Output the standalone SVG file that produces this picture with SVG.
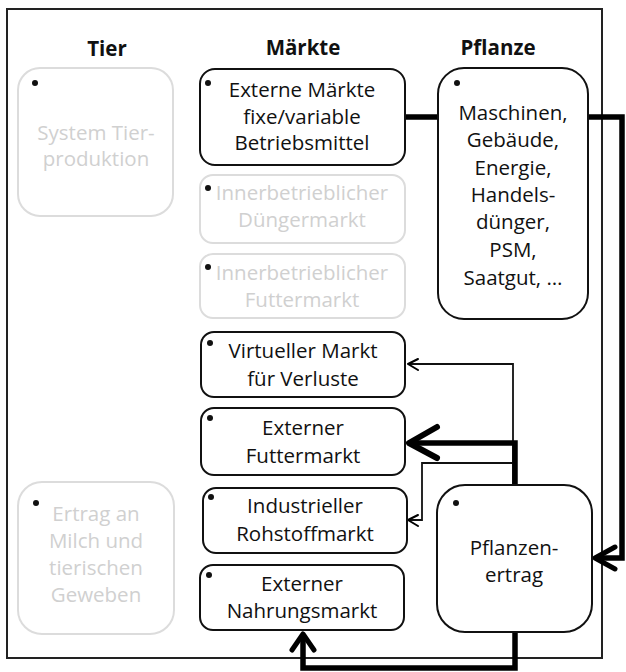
<svg xmlns="http://www.w3.org/2000/svg" width="626" height="672" viewBox="0 0 626 672">
<style>
text{font-family:"Open Sans","Noto Sans","Liberation Sans",sans-serif;font-size:20.5px;text-anchor:middle;fill:#111}
.h{font-weight:bold;font-size:20.5px}
.g{fill:#d0d0d0}
.bx{fill:#fff;stroke:#111;stroke-width:2}
.gb{fill:#fff;stroke:#dcdcdc;stroke-width:2}
.dot{fill:#111}
.thin{fill:none;stroke:#111;stroke-width:1.8}
.thick{fill:none;stroke:#000;stroke-width:5.5}
.ah{fill:none;stroke:#000;stroke-linecap:round;stroke-linejoin:round}
</style>
<rect x="7" y="9" width="595" height="649" fill="#fff" stroke="#222" stroke-width="2"/>
<text class="h" x="107" y="56">Tier</text>
<text class="h" x="303" y="55">Märkte</text>
<text class="h" x="498" y="55">Pflanze</text>
<g id="connectors">
<path class="thick" d="M405 117 H622 V558 H596"/>
<polyline class="ah" stroke-width="5" points="615,547 595,558 615,569"/>
<path class="thin" d="M513 485 V364 H409"/>
<polyline class="ah" stroke-width="2" points="418,359 408,364 418,370"/>
<path class="thin" d="M513 463 H422 V520 H409"/>
<polyline class="ah" stroke-width="2" points="418,515 408,520 418,526"/>
<path class="thick" d="M515 485 V443 H410"/>
<polyline class="ah" stroke-width="6" points="437,427 409,443 437,458"/>
<path class="thick" d="M515 632 V668 H303 V636"/>
<polyline class="ah" stroke-width="5" points="292,650 303,634 314,650"/>
</g>
<g id="system-tierproduktion">
<rect class="gb" x="18" y="68" width="155" height="148" rx="22"/>
<circle class="dot" cx="35" cy="83" r="3"/>
<text class="g" x="96" y="140">System Tier-</text>
<text class="g" x="96" y="166">produktion</text>
</g>
<g id="externe-maerkte">
<rect class="bx" x="200" y="69" width="205" height="96" rx="15"/>
<circle class="dot" cx="208" cy="83" r="3"/>
<text x="302" y="97">Externe Märkte</text>
<text x="302" y="124">fixe/variable</text>
<text x="302" y="150">Betriebsmittel</text>
</g>
<g id="duengermarkt">
<rect class="gb" x="200" y="175" width="205" height="68" rx="13"/>
<circle class="dot" cx="208" cy="188" r="3"/>
<text class="g" x="302" y="200">Innerbetrieblicher</text>
<text class="g" x="302" y="227">Düngermarkt</text>
</g>
<g id="futtermarkt-intern">
<rect class="gb" x="200" y="254" width="205" height="64" rx="13"/>
<circle class="dot" cx="208" cy="267" r="3"/>
<text class="g" x="302" y="280">Innerbetrieblicher</text>
<text class="g" x="302" y="307">Futtermarkt</text>
</g>
<g id="pflanze">
<rect class="bx" x="438" y="68" width="150" height="251" rx="26"/>
<circle class="dot" cx="457" cy="83" r="3"/>
<text x="513" y="120">Maschinen,</text>
<text x="513" y="147">Gebäude,</text>
<text x="513" y="175">Energie,</text>
<text x="513" y="202">Handels-</text>
<text x="513" y="229">dünger,</text>
<text x="513" y="257">PSM,</text>
<text x="513" y="285">Saatgut, …</text>
</g>
<g id="virtueller-markt">
<rect class="bx" x="201" y="332" width="204" height="65" rx="13"/>
<circle class="dot" cx="210" cy="343" r="3"/>
<text x="303" y="358">Virtueller Markt</text>
<text x="303" y="386">für Verluste</text>
</g>
<g id="externer-futtermarkt">
<rect class="bx" x="201" y="408" width="204" height="67" rx="13"/>
<circle class="dot" cx="210" cy="418" r="3"/>
<text x="303" y="435">Externer</text>
<text x="303" y="463">Futtermarkt</text>
</g>
<g id="rohstoffmarkt">
<rect class="bx" x="203" y="488" width="204" height="65" rx="13"/>
<circle class="dot" cx="211" cy="497" r="3"/>
<text x="305" y="513">Industrieller</text>
<text x="305" y="541">Rohstoffmarkt</text>
</g>
<g id="nahrungsmarkt">
<rect class="bx" x="200" y="565" width="204" height="65" rx="13"/>
<circle class="dot" cx="209" cy="575" r="3"/>
<text x="302" y="591">Externer</text>
<text x="302" y="618">Nahrungsmarkt</text>
</g>
<g id="ertrag-tier">
<rect class="gb" x="18" y="482" width="156" height="152" rx="24"/>
<circle class="dot" cx="36" cy="503" r="3"/>
<text class="g" x="96" y="521">Ertrag an</text>
<text class="g" x="96" y="548">Milch und</text>
<text class="g" x="96" y="575">tierischen</text>
<text class="g" x="96" y="602">Geweben</text>
</g>
<g id="pflanzenertrag">
<rect class="bx" x="437" y="485" width="155" height="147" rx="28"/>
<circle class="dot" cx="456" cy="503" r="3"/>
<text x="514" y="555">Pflanzen-</text>
<text x="514" y="582">ertrag</text>
</g>
</svg>
